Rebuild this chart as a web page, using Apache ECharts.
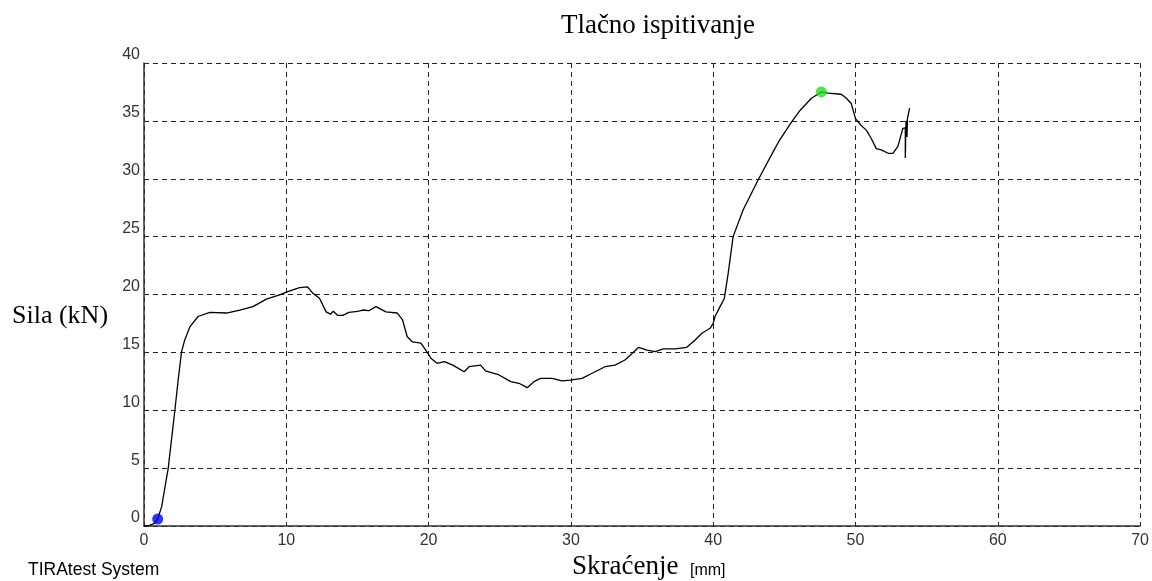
<!DOCTYPE html>
<html>
<head>
<meta charset="utf-8">
<script src="https://cdn.jsdelivr.net/npm/echarts@6/dist/echarts.min.js"></script>
<style>
html,body{margin:0;padding:0;background:#fff;}
#c{width:1152px;height:581px;}
</style>
</head>
<body>
<div id="c"></div>
<script>
// Shortening (mm) and force (kN)
var shortening = [0,0.4,0.7,0.96,1.24,1.7,2.17,2.4,2.64,2.87,3.22,3.8,4.63,5.8,6.73,7.66,8.6,9.53,10.0,10.93,11.5,11.87,12.33,12.8,13.1,13.3,13.6,13.97,14.4,15.0,15.37,15.8,16.3,17.0,17.8,18.17,18.5,18.87,19.46,19.8,20.16,20.6,21.1,21.7,22.5,22.85,23.66,24.0,24.95,25.77,26.35,26.93,27.4,27.87,28.68,29.38,29.97,30.78,31.49,32.4,33.1,33.8,34.3,34.76,35.34,35.93,36.5,37.33,38.14,38.73,39.2,39.78,40.0,40.13,40.48,40.78,41.05,41.4,42.1,43.2,44.2,44.6,45.5,46.1,46.9,47.6,48.07,49.0,49.36,49.7,50.0,50.4,50.76,51.1,51.46,51.8,52.3,52.63,52.98,53.33,53.5,53.5,53.55,53.62,53.65,53.8];
var force = [0,0.05,0.2,0.6,1.67,4.98,10.0,12.6,15.06,16.1,17.2,18.1,18.46,18.4,18.66,18.95,19.6,19.96,20.2,20.6,20.65,20.1,19.67,18.5,18.3,18.55,18.2,18.2,18.46,18.55,18.66,18.6,18.95,18.5,18.4,17.8,16.35,15.9,15.8,15.2,14.5,14.05,14.2,13.9,13.33,13.76,13.9,13.4,13.05,12.47,12.33,11.95,12.47,12.76,12.76,12.53,12.6,12.76,13.2,13.76,13.9,14.34,14.9,15.44,15.2,15.06,15.3,15.3,15.44,16.07,16.65,17.08,17.5,18.1,18.95,19.65,21.8,25.0,27.3,30.0,32.3,33.2,34.9,35.9,36.95,37.5,37.4,37.3,36.95,36.5,35.2,34.6,34.2,33.5,32.6,32.5,32.2,32.2,32.8,34.36,34.4,31.8,35.0,33.6,35.2,36.1];
var startPoint = [0.96, 0.6];
var maxPoint = [47.6, 37.5];
var xTicks = {min:0, max:70, step:10};
var yTicks = {min:0, max:40, step:5};

var curve = shortening.map(function(x,i){return [x, force[i]];});

var chart = echarts.init(document.getElementById('c'));
var dashed = {show:true, lineStyle:{color:'#222', width:1, type:[5,4]}};
chart.setOption({
  animation:false,
  backgroundColor:'#fff',
  grid:{left:144, right:8, top:63, bottom:55},
  xAxis:{type:'value', min:xTicks.min, max:xTicks.max, interval:xTicks.step,
    axisLine:{show:true, onZero:false, lineStyle:{color:'#333', width:1.5}},
    axisTick:{show:false},
    axisLabel:{color:'#333', fontFamily:'Liberation Sans', fontSize:16, margin:7},
    splitLine:dashed},
  yAxis:{type:'value', min:yTicks.min, max:yTicks.max, interval:yTicks.step,
    axisLine:{show:true, onZero:false, lineStyle:{color:'#333', width:1.5}},
    axisTick:{show:false},
    axisLabel:{color:'#333', fontFamily:'Liberation Sans', fontSize:16, margin:4, verticalAlign:'bottom'},
    splitLine:dashed},
  series:[
    {type:'line', data:curve, showSymbol:false, symbol:'none', lineStyle:{color:'#000', width:1.3}, z:3},
    {type:'scatter', data:[startPoint], symbol:'circle', symbolSize:11, itemStyle:{color:'#0000ff'}, z:5},
    {type:'scatter', data:[maxPoint], symbol:'circle', symbolSize:11, itemStyle:{color:'#1ee01e'}, z:5}
  ],
  graphic:[
    {type:'text', style:{text:'Tlačno ispitivanje', x:658, y:26, align:'center', verticalAlign:'middle', font:'27px "Liberation Serif"', fill:'#000'}},
    {type:'text', style:{text:'Sila (kN)', x:12, y:316, align:'left', verticalAlign:'middle', font:'26px "Liberation Serif"', fill:'#000'}},
    {type:'text', style:{text:'Skraćenje', x:572, y:567, align:'left', verticalAlign:'middle', font:'27px "Liberation Serif"', fill:'#000'}},
    {type:'text', style:{text:'[mm]', x:690, y:571, align:'left', verticalAlign:'middle', font:'16px "Liberation Sans"', fill:'#000'}},
    {type:'text', style:{text:'TIRAtest System', x:28, y:570, align:'left', verticalAlign:'middle', font:'17.5px "Liberation Sans"', fill:'#000'}}
  ]
});
</script>
</body>
</html>
